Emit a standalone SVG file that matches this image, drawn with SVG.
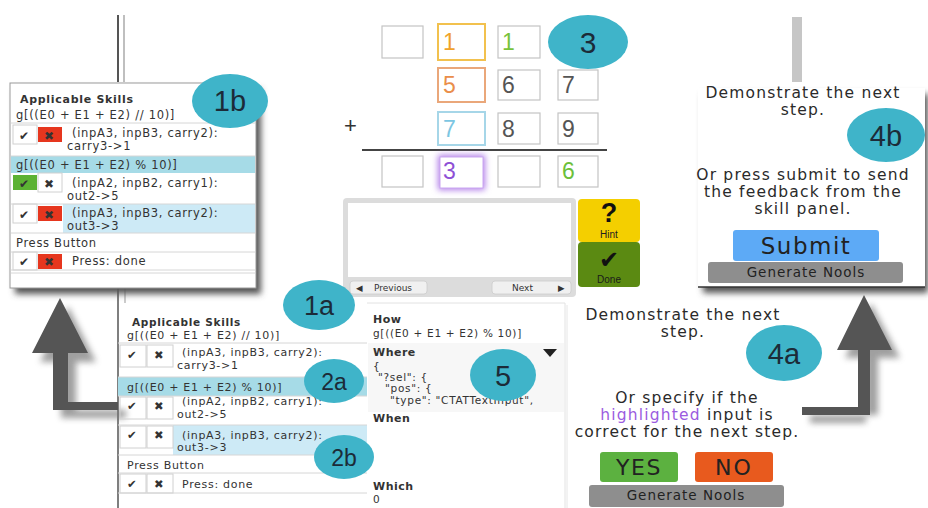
<svg xmlns="http://www.w3.org/2000/svg" width="928" height="508" viewBox="0 0 928 508">
<defs>
<filter id="sh" x="-10%" y="-10%" width="130%" height="130%"><feGaussianBlur stdDeviation="3"/></filter>
<filter id="glow" x="-50%" y="-50%" width="200%" height="200%"><feGaussianBlur stdDeviation="3"/></filter>
<style>
.ui{font-family:"DejaVu Sans","Noto Sans",sans-serif;fill:#333}
.sk{font-family:"DejaVu Sans","Noto Sans",sans-serif;fill:#333;font-size:11.5px;letter-spacing:0.7px}
.sk2{font-family:"DejaVu Sans","Noto Sans",sans-serif;fill:#333;font-size:11px;letter-spacing:0.7px}
.code{font-family:"DejaVu Sans","Noto Sans",sans-serif;fill:#333;font-size:10.5px;letter-spacing:0.7px}
.b{font-weight:bold}
.msg{font-family:"DejaVu Sans","Noto Sans",sans-serif;fill:#2a2a2a;font-size:15.5px;letter-spacing:1.2px;text-anchor:middle}
.lbl{font-family:"Liberation Sans",Arial,sans-serif;fill:#1c2b38;text-anchor:middle}
.bub{fill:#3fb4c9}
.sep{stroke:#d6d6d6;stroke-width:1}
.cell{fill:none;stroke:#d0d0d0;stroke-width:1}
.box{fill:#fff;stroke:#c4c4c4;stroke-width:1.2}
.dig{font-family:"Liberation Sans",Arial,sans-serif;font-size:23px}
.arrow{fill:#555}
.ashadow{fill:#777;opacity:0.7}
.btn{font-family:"DejaVu Sans","Noto Sans",sans-serif;text-anchor:middle;fill:#222}
</style>
</defs>
<rect width="928" height="508" fill="#fff"/>

<g id="dividers">
<line x1="118" y1="15" x2="118" y2="82" stroke="#555" stroke-width="2"/>
<line x1="124" y1="15" x2="124" y2="82" stroke="#aaa" stroke-width="1.5"/>
<line x1="118" y1="288" x2="118" y2="508" stroke="#555" stroke-width="1.5"/>
<line x1="125" y1="288" x2="125" y2="303" stroke="#999" stroke-width="1"/>
<rect x="792" y="17" width="10" height="65" fill="#c6c6c6"/>
</g>

<g id="connectors">
<path class="ashadow" filter="url(#sh)" d="M61,362 L61,418 L126,418 L126,410 L76,410 L76,362 L96,362 L68,306 L40,362 Z"/>
<path class="arrow" d="M32,353 L60,298 L88,353 L68,353 L68,402 L118,402 L118,410 L53,410 L53,353 Z"/>
<path class="ashadow" filter="url(#sh)" d="M810,415 L878,415 L878,358 L900,358 L871,303 L845,358 L866,358 L866,423 L810,423 Z"/>
<path class="arrow" d="M802,407 L858,407 L858,350 L837,350 L864,295 L892,350 L870,350 L870,415 L802,415 Z"/>
</g>

<g id="panel-1b">
<rect x="15" y="89" width="246" height="205" fill="#555" filter="url(#sh)"/>
<rect x="10" y="83" width="246" height="205" fill="#fff" stroke="#999" stroke-width="1"/>
<rect x="11" y="156" width="244" height="17" fill="#a6dbe7"/>
<rect x="63" y="204" width="192" height="29" fill="#cdeaf6"/>
<rect x="38" y="127" width="24" height="15" fill="#e6361e"/>
<rect x="13" y="175" width="24" height="15" fill="#5cb233"/>
<rect x="38" y="206" width="24" height="15" fill="#e6361e"/>
<rect x="38" y="254" width="24" height="15" fill="#e6361e"/>
<rect class="cell" x="13" y="125" width="24" height="19"/>
<rect class="cell" x="13" y="204" width="24" height="19"/>
<rect class="cell" x="13" y="252" width="24" height="18"/>
<rect class="cell" x="38" y="173" width="24" height="19"/>
<line class="sep" x1="11" y1="123" x2="255" y2="123"/>
<line class="sep" x1="11" y1="156" x2="255" y2="156"/>
<line class="sep" x1="11" y1="204" x2="255" y2="204"/>
<line class="sep" x1="11" y1="233" x2="255" y2="233"/>
<line class="sep" x1="11" y1="252" x2="255" y2="252"/>
<line class="sep" x1="11" y1="270" x2="255" y2="270"/>
<line class="sep" x1="11" y1="273" x2="255" y2="273"/>
<text class="ui b" x="20" y="103" font-size="11" letter-spacing="0.7">Applicable Skills</text>
<text class="sk" x="16" y="119">g[((E0 + E1 + E2) // 10)]</text>
<text class="ui" x="19" y="140" font-size="12">✔</text>
<text class="ui" x="44" y="140" font-size="12" fill="#222">✖</text>
<text class="sk" x="72" y="137">(inpA3, inpB3, carry2):</text>
<text class="sk" x="67" y="150">carry3-&gt;1</text>
<text class="sk" x="16" y="169">g[((E0 + E1 + E2) % 10)]</text>
<text class="ui" x="19" y="188" font-size="12">✔</text>
<text class="ui" x="44" y="188" font-size="12" fill="#222">✖</text>
<text class="sk" x="72" y="187">(inpA2, inpB2, carry1):</text>
<text class="sk" x="67" y="200">out2-&gt;5</text>
<text class="ui" x="19" y="219" font-size="12">✔</text>
<text class="ui" x="44" y="219" font-size="12" fill="#222">✖</text>
<text class="sk" x="72" y="217">(inpA3, inpB3, carry2):</text>
<text class="sk" x="67" y="230">out3-&gt;3</text>
<text class="sk" x="16" y="247">Press Button</text>
<text class="ui" x="19" y="266" font-size="12">✔</text>
<text class="ui" x="44" y="266" font-size="12" fill="#222">✖</text>
<text class="sk" x="72" y="265">Press: done</text>
</g>
<g id="bubble-1b">
<ellipse class="bub" cx="230" cy="101" rx="38" ry="27"/>
<text class="lbl" x="230" y="111" font-size="29">1b</text>
</g>

<g id="panel-skills">
<rect x="118" y="377" width="249" height="19" fill="#a6dbe7"/>
<rect x="173" y="425" width="194" height="30" fill="#cdeaf6"/>
<rect class="cell" x="120" y="345" width="26" height="22"/>
<rect class="cell" x="147" y="345" width="26" height="22"/>
<rect class="cell" x="120" y="397" width="26" height="22"/>
<rect class="cell" x="147" y="397" width="26" height="22"/>
<rect class="cell" x="120" y="426" width="26" height="22"/>
<rect class="cell" x="147" y="426" width="26" height="22"/>
<rect class="cell" x="120" y="474" width="26" height="19"/>
<rect class="cell" x="147" y="474" width="26" height="19"/>
<line class="sep" x1="118" y1="343" x2="367" y2="343"/>
<line class="sep" x1="118" y1="377" x2="367" y2="377"/>
<line class="sep" x1="118" y1="396" x2="367" y2="396"/>
<line class="sep" x1="118" y1="425" x2="367" y2="425"/>
<line class="sep" x1="118" y1="455" x2="367" y2="455"/>
<line class="sep" x1="118" y1="473" x2="367" y2="473"/>
<line class="sep" x1="118" y1="493" x2="367" y2="493"/>
<text class="ui b" x="132" y="326" font-size="10.5" letter-spacing="0.7">Applicable Skills</text>
<text class="sk2" x="127" y="339">g[((E0 + E1 + E2) // 10)]</text>
<text class="ui" x="127" y="359" font-size="11.5">✔</text>
<text class="ui" x="154" y="359" font-size="11.5" fill="#222">✖</text>
<text class="sk2" x="182" y="356">(inpA3, inpB3, carry2):</text>
<text class="sk2" x="177" y="369">carry3-&gt;1</text>
<text class="sk2" x="127" y="391">g[((E0 + E1 + E2) % 10)]</text>
<text class="ui" x="127" y="410" font-size="11.5">✔</text>
<text class="ui" x="154" y="410" font-size="11.5" fill="#222">✖</text>
<text class="sk2" x="182" y="405">(inpA2, inpB2, carry1):</text>
<text class="sk2" x="177" y="418">out2-&gt;5</text>
<text class="ui" x="127" y="439" font-size="11.5">✔</text>
<text class="ui" x="154" y="439" font-size="11.5" fill="#222">✖</text>
<text class="sk2" x="182" y="439">(inpA3, inpB3, carry2):</text>
<text class="sk2" x="177" y="451">out3-&gt;3</text>
<text class="sk2" x="127" y="469">Press Button</text>
<text class="ui" x="127" y="488" font-size="11.5">✔</text>
<text class="ui" x="154" y="488" font-size="11.5" fill="#222">✖</text>
<text class="sk2" x="182" y="488">Press: done</text>
</g>

<g id="grid">
<rect class="box" x="382" y="26" width="41" height="32"/>
<rect x="438" y="24" width="47" height="36" fill="#fff" stroke="#f2c14e" stroke-width="2"/>
<text class="dig" x="443" y="50" fill="#f0a22a">1</text>
<rect class="box" x="498" y="26" width="42" height="32"/>
<text class="dig" x="502" y="50" fill="#78c23a">1</text>
<rect x="438" y="68" width="47" height="34" fill="#fff" stroke="#eaa77a" stroke-width="2"/>
<text class="dig" x="443" y="93" fill="#ea8e4a">5</text>
<rect class="box" x="498" y="70" width="42" height="30"/>
<text class="dig" x="502" y="93" fill="#555">6</text>
<rect class="box" x="558" y="70" width="40" height="30"/>
<text class="dig" x="562" y="93" fill="#555">7</text>
<text x="344" y="133" font-family="Liberation Sans,Arial,sans-serif" font-size="22" fill="#333">+</text>
<rect x="438" y="112" width="47" height="33" fill="#fff" stroke="#a6d6e8" stroke-width="2"/>
<text class="dig" x="443" y="137" fill="#7cc6e2">7</text>
<rect class="box" x="498" y="113" width="42" height="31"/>
<text class="dig" x="502" y="137" fill="#555">8</text>
<rect class="box" x="558" y="113" width="40" height="31"/>
<text class="dig" x="562" y="137" fill="#555">9</text>
<line x1="362" y1="150" x2="607" y2="150" stroke="#444" stroke-width="1.8"/>
<rect class="box" x="382" y="156" width="41" height="31"/>
<rect x="438" y="155" width="47" height="35" fill="#b07ce8" filter="url(#glow)"/>
<rect x="440" y="157" width="43" height="31" fill="#fff" stroke="#c9a6f0" stroke-width="1"/>
<text class="dig" x="443" y="179" fill="#8e4fd6">3</text>
<rect class="box" x="498" y="156" width="42" height="31"/>
<rect class="box" x="558" y="156" width="40" height="31"/>
<text class="dig" x="562" y="179" fill="#6cbf3a">6</text>
</g>
<g id="bubble-3">
<ellipse class="bub" cx="588" cy="42" rx="40" ry="27"/>
<text class="lbl" x="588" y="53" font-size="30">3</text>
</g>

<g id="feedback">
<rect x="343" y="198" width="233" height="99" rx="4" fill="#dcdcdc"/>
<rect x="348" y="203" width="223" height="74" fill="#fff"/>
<rect x="350" y="281" width="77" height="13" rx="3" fill="#f0f0f0" stroke="#ccc" stroke-width="0.8"/>
<text class="ui" x="356" y="291" font-size="8.5" fill="#aaa">◀</text>
<text class="ui" x="374" y="291" font-size="9" fill="#b8b8b8">Previous</text>
<rect x="492" y="281" width="79" height="13" rx="3" fill="#f0f0f0" stroke="#ccc" stroke-width="0.8"/>
<text class="ui" x="512" y="291" font-size="9" fill="#b8b8b8">Next</text>
<text class="ui" x="558" y="291" font-size="8.5" fill="#aaa">▶</text>
</g>
<g id="hint">
<rect x="578" y="199" width="62" height="43" rx="4" fill="#f4cf00"/>
<text x="609" y="222" text-anchor="middle" font-family="Liberation Sans,Arial,sans-serif" font-weight="bold" font-size="27" fill="#111">?</text>
<text x="609" y="238" text-anchor="middle" font-family="Liberation Sans,Arial,sans-serif" font-size="10" fill="#222">Hint</text>
</g>
<g id="done">
<rect x="578" y="242" width="62" height="45" rx="4" fill="#5b8a12"/>
<text x="609" y="268" text-anchor="middle" font-family="DejaVu Sans,sans-serif" font-size="24" fill="#111">✔</text>
<text x="609" y="283" text-anchor="middle" font-family="Liberation Sans,Arial,sans-serif" font-size="10" fill="#1a1a1a">Done</text>
</g>

<g id="panel-where">
<line x1="367" y1="303" x2="565" y2="303" stroke="#e2e2e2"/>
<line x1="565" y1="303" x2="565" y2="508" stroke="#e2e2e2"/>
<line x1="567" y1="305" x2="567" y2="508" stroke="#e6e6e6"/>
<rect x="368" y="343" width="196" height="69" fill="#f7f7f7"/>
<text class="ui b" x="373" y="323" font-size="11" letter-spacing="0.5">How</text>
<text class="code" x="373" y="337">g[((E0 + E1 + E2) % 10)]</text>
<text class="ui b" x="373" y="356" font-size="11" letter-spacing="0.5">Where</text>
<text class="code" x="373" y="370">{</text>
<text class="code" x="378" y="381">"?sel": {</text>
<text class="code" x="385" y="392">"pos": {</text>
<text class="code" x="390" y="404">"type": "CTATTextInput",</text>
<path d="M543,349 L557,349 L550,357 Z" fill="#222"/>
<text class="ui b" x="373" y="422" font-size="11" letter-spacing="0.5">When</text>
<text class="ui b" x="373" y="490" font-size="11" letter-spacing="0.5">Which</text>
<text class="code" x="373" y="503">0</text>
</g>
<g id="bubble-5">
<ellipse class="bub" cx="503" cy="375" rx="33" ry="26"/>
<text class="lbl" x="503" y="386" font-size="29">5</text>
</g>

<g id="panel-4b">
<rect x="703" y="94" width="225" height="199" fill="#555" filter="url(#sh)"/>
<rect x="698" y="88" width="227" height="199" fill="#fff"/>
<line x1="698" y1="287" x2="925" y2="287" stroke="#333" stroke-width="1.5"/>
<text class="msg" x="803" y="98">Demonstrate the next</text>
<text class="msg" x="803" y="115">step.</text>
<text class="msg" x="803" y="180">Or press submit to send</text>
<text class="msg" x="803" y="197">the feedback from the</text>
<text class="msg" x="803" y="214">skill panel.</text>
<rect x="733" y="230" width="146" height="31" rx="3" fill="#5daaf6"/>
<text class="btn" x="806" y="254" font-size="23" letter-spacing="1.5" fill="#16283a">Submit</text>
<rect x="708" y="262" width="195" height="21" rx="3" fill="#8e8e8e"/>
<text class="btn" x="806" y="277" font-size="13.5" letter-spacing="1">Generate Nools</text>
</g>
<g id="bubble-4b">
<ellipse class="bub" cx="886" cy="135" rx="39" ry="27"/>
<text class="lbl" x="886" y="146" font-size="29">4b</text>
</g>

<g id="panel-4a">
<text class="msg" x="683" y="320">Demonstrate the next</text>
<text class="msg" x="683" y="337">step.</text>
<text class="msg" x="687" y="403">Or specify if the</text>
<text class="msg" x="687" y="420"><tspan fill="#9b5ce0">highlighted</tspan> input is</text>
<text class="msg" x="687" y="437">correct for the next step.</text>
<rect x="600" y="452" width="78" height="30" rx="3" fill="#5cb140"/>
<text class="btn" x="639" y="475" font-size="22" letter-spacing="1.5" fill="#1a2a1a">YES</text>
<rect x="695" y="452" width="78" height="30" rx="3" fill="#e85a1e"/>
<text class="btn" x="734" y="475" font-size="22" letter-spacing="2" fill="#1a1a1a">NO</text>
<rect x="589" y="485" width="195" height="22" rx="3" fill="#8e8e8e"/>
<text class="btn" x="686" y="500" font-size="13.5" letter-spacing="1">Generate Nools</text>
</g>
<g id="bubble-4a">
<ellipse class="bub" cx="784" cy="353" rx="38" ry="28"/>
<text class="lbl" x="784" y="364" font-size="29">4a</text>
</g>

<g id="bubble-1a">
<ellipse class="bub" cx="319" cy="305" rx="36" ry="25"/>
<text class="lbl" x="319" y="315" font-size="27">1a</text>
</g>
<g id="bubble-2a">
<ellipse class="bub" cx="334" cy="381" rx="30" ry="22"/>
<text class="lbl" x="334" y="390" font-size="23">2a</text>
</g>
<g id="bubble-2b">
<ellipse class="bub" cx="344" cy="457" rx="30" ry="22"/>
<text class="lbl" x="344" y="466" font-size="23">2b</text>
</g>
</svg>
